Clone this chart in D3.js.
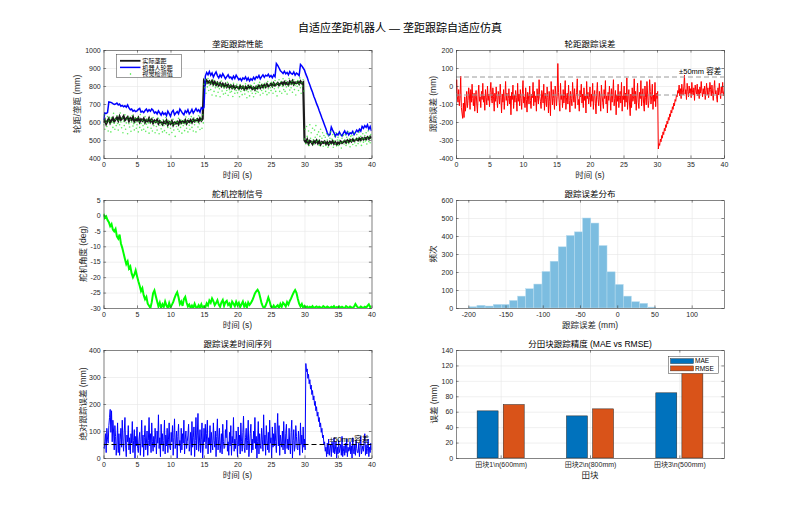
<!DOCTYPE html>
<html><head><meta charset="utf-8">
<script src="https://cdn.jsdelivr.net/npm/d3@7"></script>
<style>
body{margin:0;background:#fff;}
svg text{font-family:"Liberation Sans","Noto Sans CJK SC",sans-serif;}
</style></head><body>
<svg id="c" width="800" height="514"></svg>
<script>
// ---------------- DATA ----------------
// sample instants (s)
const t02 = d3.range(201).map(i => i * 0.2);
const t01 = d3.range(401).map(i => i * 0.1);

// 实际垄距 (mm), every 0.2 s
const actualSpacing = [
598,612,590,605,618, 596,610,622,603,615, 625,608,630,612,620, 632,610,618,627,606,
621,612,628,604,617, 609,622,600,615,607, 618,598,611,604,620, 601,613,595,608,600,
612,592,605,598,587, 603,594,608,585,599, 590,604,583,597,592, 601,588,606,595,603,
597,610,592,606,600, 611,598,614,603,609, 616,604,620,608,618, 825,812,830,818,826,
815,828,810,822,807, 818,804,815,800,812, 798,810,795,806,792, 803,790,801,787,798,
794,785,799,788,796, 782,795,786,800,790, 797,784,792,780,795, 788,801,790,803,794,
806,795,810,798,804, 812,800,815,803,809, 817,805,813,820,808, 822,811,818,807,825,
814,828,810,820,816, 823,812,826,815,820, 498,487,502,480,495, 490,478,494,485,497,
482,493,476,489,484, 491,478,488,475,490, 483,494,479,488,475, 486,480,492,484,490,
495,486,498,489,500, 492,503,495,499,506, 498,508,500,510,503, 512,505,515,507,518,
510];

// 机器人轮距 (mm), every 0.2 s
const wheelTrack = [
610,650,648,652,712, 710,708,702,698,700, 705,695,700,688,692, 685,690,682,695,678,
668,672,660,665,658, 662,670,675,655,660, 652,664,672,658,668, 660,672,665,650,656,
645,662,650,638,655, 642,650,635,660,646, 632,655,665,640,650, 658,645,672,660,648,
640,662,652,668,645, 655,670,650,662,675, 660,668,655,680,672, 682,855,875,862,880,
860,872,850,866,878, 858,845,862,850,868, 855,840,852,862,845, 850,838,855,842,860,
848,835,842,830,845, 838,850,832,845,828, 840,832,848,836,852, 845,858,840,852,862,
848,860,855,865,850, 858,846,862,852,925, 915,900,885,878,870, 882,868,875,862,880,
870,865,878,860,872, 866,858,920,912,900, 888,866,848,825,806, 784,765,742,724,702,
684,662,643,622,603, 582,562,540,524,530, 572,555,540,520,535, 528,545,530,522,538,
550,532,545,528,540, 535,548,530,542,555, 545,560,550,575,565, 580,570,585,560,575,
550];

// 视觉检测值 (mm), every 0.1 s
const visionMeas = [
585,640,560,612,598,575,630,550,605,620, 590,545,625,600,570,648,595,560,615,580,
635,592,555,610,585,650,600,568,622,540, 605,580,640,560,595,615,535,628,590,572,
612,548,600,636,578,590,556,620,598,565, 585,625,545,603,570,642,592,555,610,580,
560,600,630,548,588,612,570,595,538,618, 592,565,608,550,625,580,597,540,603,575,
555,598,620,535,582,605,562,590,545,612, 580,552,600,625,540,588,570,608,530,595,
565,600,542,585,615,555,592,520,603,575, 598,560,620,548,588,570,610,538,595,580,
610,552,590,628,565,600,545,618,582,560, 595,630,570,608,550,622,585,603,545,615,
600,572,635,590,558,625,610,565,640,595, 810,790,835,760,818,795,842,775,805,825,
780,815,750,800,832,770,808,790,745,820, 795,765,812,785,740,805,828,772,798,755,
788,810,760,795,775,820,748,800,780,765, 805,770,790,742,815,785,760,798,775,810,
762,795,780,740,808,770,790,752,800,778, 790,755,812,775,735,798,768,785,745,805,
772,800,760,790,740,815,780,758,795,770, 805,765,790,820,750,798,775,810,760,785,
795,815,770,800,752,825,785,762,808,790, 775,820,798,760,812,785,830,770,805,745,
815,790,835,770,805,825,760,798,840,780, 808,770,830,795,755,818,800,842,778,812,
790,825,765,810,835,780,805,750,820,798, 830,775,812,845,790,760,818,800,835,772,
505,560,480,575,520,495,550,470,585,510, 540,488,565,500,475,555,515,580,490,530,
498,545,470,520,560,485,510,540,465,525, 490,515,470,535,500,460,525,482,510,545,
475,505,530,460,495,520,480,540,468,500, 515,470,498,530,485,455,510,490,525,478,
500,530,470,515,490,545,480,505,462,520, 495,525,475,510,540,485,500,468,530,505,
480,515,545,490,520,470,505,535,488,510, 525,495,540,478,510,550,492,520,485,530,
505];

// 轮距跟踪误差 (mm), every 0.1 s
const trackErr = [
-40,35,-60,-90,-20,-110,-70,55,-120,-150, -180,-95,-175,-60,-140,-100,-30,-120,-80,-10,
-50,-130,-20,-90,10,-70,-110,-40,-140,-60, -25,-100,-150,-45,5,-85,-60,-120,-30,-75,
15,-90,-55,-135,-20,-65,-105,0,-80,-45, -115,-35,20,-70,-95,-10,-60,-140,-40,-85,
-5,-75,-120,-30,-55,-100,10,-65,-150,-45, -90,-20,-130,-60,25,-80,-40,-110,-70,-15,
-100,-55,-160,-35,-75,5,-125,-50,-90,-25, -65,-140,15,-85,-45,-110,-20,-70,-130,-40,
30,-95,-60,-120,-10,-75,-145,-35,-55,-100, 0,-80,-125,-45,-65,20,-110,-30,-90,-55,
-140,-15,-70,-100,35,-60,-85,-125,-25,-50, -95,10,-135,-40,-75,-115,-5,-65,-150,-30,
-85,-165,25,-55,-105,-20,-70,-130,0,-45, -110,-60,125,-35,-90,-140,15,-75,-50,-120,
-20,-95,-55,30,-130,-65,-40,-100,5,-80, -145,-30,-70,-110,20,-50,-90,-15,-125,-60,
-35,40,-105,-75,-140,-25,-60,10,-95,-45, -120,-10,-80,-55,-150,25,-70,-35,-100,-65,
-5,-115,-45,-85,15,-130,-60,-25,-95,-155, -40,20,-75,-110,-30,-65,-140,5,-50,-90,
-125,-20,-70,30,-100,-55,-150,-35,-80,0, -60,-135,-15,-90,-45,35,-110,-70,-25,-160,
-50,-85,10,-120,-65,-30,-95,20,-140,-55, -75,0,-115,-40,-90,45,-130,-60,-20,-100,
-165,-45,-120,-10,-85,-60,40,-100,-30,-135, -55,15,-90,-125,-35,-70,30,-110,-50,-15,
-95,-140,0,-65,-105,25,-45,-120,-80,35, -30,-100,-60,10,-130,-50,-85,20,-115,-40,
-70,-30,-350,-320,-330,-295,-310,-275,-290,-255, -270,-235,-250,-215,-230,-195,-210,-175,-190,-155,
-170,-135,-150,-115,-130,-95,-110,-75,-85,-50, -60,-25,-40,5,-55,-15,-70,10,-35,-50,
-5,60,-45,-20,-75,15,-30,-60,0,-40, -15,-65,20,-35,-50,-10,-80,5,-25,-45,
10,-55,-20,-70,-5,-40,25,-30,-60,-15, -45,0,-75,-25,15,-50,-10,-65,-35,20,
-20,-55,5,-40,-80,-15,30,-45,-25,-60, -90,-10,-50,15,-35,-70,-5,-40,20,-55,
-30];

// 舵机角度 (deg), every 0.2 s
const servoAngle = [
0.5,-0.8,-0.3,-1.5,-2.2, -3.5,-2.8,-4.6,-5.2,-4.4, -6.8,-7.5,-6.2,-9.1,-10.5, -12.3,-14.1,-15.8,-14.9,-17.2,
-16.5,-18.8,-20.1,-19.2,-17.8, -19.6,-21.3,-22.8,-24.5,-23.6, -25.9,-27.2,-26.4,-28.6,-29.3, -30,-28.1,-25.2,-24.3,-26.1,
-27.8,-29.5,-28.3,-30,-28.8, -29.6,-27.9,-29.2,-30,-28.4, -29.8,-29.0,-28.1,-26.8,-25.7, -24.9,-26.5,-28.7,-27.9,-29.3,
-27.1,-26.4,-28.2,-29.5,-28.9, -30,-29.2,-30,-28.6,-29.7, -30,-29.1,-29.9,-28.8,-30, -29.4,-29.8,-28.5,-29.2,-27.6,
-28.3,-26.9,-27.8,-29.1,-28.4, -27.5,-28.9,-29.6,-28.2,-27.4, -29.3,-28.1,-27.7,-29.0,-28.5, -29.8,-27.9,-28.6,-29.4,-28.0,
-29.1,-28.3,-29.7,-28.8,-27.9, -29.5,-28.6,-29.9,-28.2,-29.0, -28.4,-27.6,-26.5,-25.3,-24.6, -24.1,-24.9,-26.7,-28.5,-29.6,
-30,-29.2,-28.0,-26.6,-27.9, -29.5,-30,-29.2,-30,-29.5, -29.1,-30,-28.7,-29.6,-28.3, -28.8,-29.5,-28.1,-28.9,-27.7,
-26.9,-25.8,-24.9,-24.2,-25.1, -27.0,-28.6,-29.5,-28.7,-30, -29.3,-29.8,-29.5,-30,-29.6, -29.9,-29.4,-30,-29.7,-29.5,
-30,-29.6,-29.8,-30,-29.4, -29.7,-30,-29.5,-29.8,-30, -29.6,-29.9,-29.4,-30,-29.7, -29.8,-29.5,-30,-29.6,-29.9,
-30,-29.4,-29.7,-30,-29.5, -29.8,-30,-29.6,-28.7,-29.4, -29.9,-30,-29.5,-29.8,-30, -29.6,-29.9,-29.3,-28.8,-29.7,
-29.5];

// 跟踪误差分布 histogram
const histEdges = [-199.3,-188.4,-177.5,-166.5,-155.6,-144.7,-133.8,-122.9,-112.0,-101.0,-90.1,-79.2,
  -68.3,-57.4,-46.5,-35.5,-24.6,-13.7,-2.8,8.1,19.0,30.0,40.9,51.8];
const histCounts = [7,15,11,20,20,42,66,107,133,203,260,340,403,423,500,472,347,201,131,66,35,26,5];

// 分田块跟踪精度
const fieldLabels = ["田块1\\n(600mm)", "田块2\\n(800mm)", "田块3\\n(500mm)"];
const maeVals = [61.1, 54.6, 84.5];
const rmseVals = [69.3, 63.7, 115];

// tick values
const timeTicks = d3.range(0, 41, 5);
const spacingTicks = d3.range(400, 1001, 100);
const errTicks = d3.range(-400, 201, 100);
const servoTicks = d3.range(-30, 6, 5);
const histXTicks = d3.range(-200, 101, 50);
const histYTicks = d3.range(0, 601, 100);
const absErrTicks = d3.range(0, 401, 100);
const barYTicks = d3.range(0, 141, 20);

// ---------------- LAYOUT ----------------
const svg = d3.select("#c");
const FONT = '"Liberation Sans","Noto Sans CJK SC",sans-serif';
const W = 268, H = 108, TK = 2.6;
const cols = [103.5, 456], rows = [50, 200, 350];
const AX = "#3a3a3a", GRID = "#e6e6e6", TXT = "#262626";

svg.append("rect").attr("width", 800).attr("height", 514).attr("fill", "#fff");
svg.append("text").attr("x", 400).attr("y", 32).attr("text-anchor", "middle")
  .attr("font-size", 11).attr("fill", "#000").text("自适应垄距机器人 — 垄距跟踪自适应仿真");

function panel(o) {
  const left = cols[o.col], top = rows[o.row];
  const x = d3.scaleLinear().domain(o.xd).range([left, left + W]);
  const y = d3.scaleLinear().domain(o.yd).range([top + H, top]);
  const g = svg.append("g");
  g.append("rect").attr("x", left).attr("y", top).attr("width", W).attr("height", H).attr("fill", "#fff");
  const gg = g.append("g");
  gg.append("g").attr("transform", `translate(0,${top + H})`)
    .call(d3.axisBottom(x).tickValues(o.xt).tickSize(-H).tickFormat(""));
  gg.append("g").attr("transform", `translate(${left},0)`)
    .call(d3.axisLeft(y).tickValues(o.yt).tickSize(-W).tickFormat(""));
  gg.selectAll(".domain").remove();
  gg.selectAll("line").attr("stroke", GRID).attr("stroke-width", 0.6);
  const id = "clip" + o.col + o.row;
  svg.append("clipPath").attr("id", id).append("rect")
    .attr("x", left).attr("y", top).attr("width", W).attr("height", H);
  const plot = g.append("g").attr("clip-path", `url(#${id})`);
  const p = { x, y, g, plot, left, top };
  p.frame = () => {
    const fx = o.xfmt || (d => String(d));
    const axs = [
      g.append("g").attr("transform", `translate(0,${top + H})`)
        .call(d3.axisBottom(x).tickValues(o.xt).tickSizeInner(-TK).tickSizeOuter(0).tickPadding(4.5).tickFormat(fx)),
      g.append("g").attr("transform", `translate(0,${top})`)
        .call(d3.axisTop(x).tickValues(o.xt).tickSizeInner(-TK).tickSizeOuter(0).tickFormat("")),
      g.append("g").attr("transform", `translate(${left},0)`)
        .call(d3.axisLeft(y).tickValues(o.yt).tickSizeInner(-TK).tickSizeOuter(0).tickPadding(2.8).tickFormat(d => String(d))),
      g.append("g").attr("transform", `translate(${left + W},0)`)
        .call(d3.axisRight(y).tickValues(o.yt).tickSizeInner(-TK).tickSizeOuter(0).tickFormat(""))
    ];
    axs.forEach(a => {
      a.attr("font-size", 7).attr("font-family", FONT);
      a.select(".domain").attr("stroke", AX).attr("stroke-width", 0.6);
      a.selectAll("line").attr("stroke", AX).attr("stroke-width", 0.6);
      a.selectAll("text").attr("fill", TXT);
    });
    g.append("text").attr("x", left + W / 2).attr("y", top - 3).attr("text-anchor", "middle")
      .attr("font-size", 8.5).attr("fill", "#000").text(o.title);
    g.append("text").attr("x", left + W / 2).attr("y", top + H + 20).attr("text-anchor", "middle")
      .attr("font-size", 8.5).attr("fill", TXT).text(o.xlabel);
    g.append("text").attr("transform", `translate(${o.ylx + 3},${top + H / 2}) rotate(-90)`)
      .attr("text-anchor", "middle").attr("font-size", 8.5).attr("fill", TXT).text(o.ylabel);
  };
  return p;
}

// ---- P1 垄距跟踪性能 ----
{
  const p = panel({ col: 0, row: 0, xd: [0, 40], yd: [400, 1000], xt: timeTicks, yt: spacingTicks,
    title: "垄距跟踪性能", xlabel: "时间 (s)", ylabel: "轮距/垄距 (mm)", ylx: 76.7 });
  const line = d3.line().x((d, i) => p.x(t02[i])).y(d => p.y(d));
  p.plot.append("path").datum(actualSpacing).attr("d", line).attr("fill", "none")
    .attr("stroke", "#1a1a1a").attr("stroke-width", 2.2);
  p.plot.append("path").datum(wheelTrack).attr("d", line).attr("fill", "none")
    .attr("stroke", "#0000ff").attr("stroke-width", 1.5);
  p.plot.selectAll(".vd").data(visionMeas).join("circle")
    .attr("cx", (d, i) => p.x(t01[i])).attr("cy", d => p.y(d)).attr("r", 0.8)
    .attr("fill", "#2ee62e").attr("fill-opacity", 0.75);
  p.frame();
  // legend
  const lg = p.g.append("g");
  lg.append("rect").attr("x", 116.7).attr("y", 54.5).attr("width", 65).attr("height", 23)
    .attr("fill", "#fff").attr("stroke", AX).attr("stroke-width", 0.5);
  const items = [["实际垄距", "line", "#1a1a1a"], ["机器人轮距", "line", "#0000ff"], ["视觉检测值", "dot", "#2ee62e"]];
  items.forEach((it, i) => {
    const yy = 60.8 + i * 6.6;
    if (it[1] === "line") lg.append("line").attr("x1", 120).attr("x2", 140.5).attr("y1", yy).attr("y2", yy)
      .attr("stroke", it[2]).attr("stroke-width", i === 0 ? 1.8 : 1.5);
    else lg.append("circle").attr("cx", 130.5).attr("cy", yy).attr("r", 0.75).attr("fill", it[2]);
    lg.append("text").attr("x", 142.3).attr("y", yy + 2.2).attr("font-size", 6.1).attr("fill", "#000").text(it[0]);
  });
}

// ---- P2 轮距跟踪误差 ----
{
  const p = panel({ col: 1, row: 0, xd: [0, 40], yd: [-400, 200], xt: timeTicks, yt: errTicks,
    title: "轮距跟踪误差", xlabel: "时间 (s)", ylabel: "跟踪误差 (mm)", ylx: 432.7 });
  const line = d3.line().x((d, i) => p.x(t01[i])).y(d => p.y(d));
  p.plot.append("path").datum(trackErr).attr("d", line).attr("fill", "none")
    .attr("stroke", "#ff0000").attr("stroke-width", 1);
  [50, -50].forEach(v => p.plot.append("line").attr("x1", p.x(0)).attr("x2", p.x(40))
    .attr("y1", p.y(v)).attr("y2", p.y(v)).attr("stroke", "#9a9a9a").attr("stroke-width", 1)
    .attr("stroke-dasharray", "5,3"));
  p.frame();
  p.g.append("text").attr("x", p.x(33.3)).attr("y", p.y(50) - 3).attr("font-size", 7.5)
    .attr("fill", "#000").text("±50mm 容差");
}

// ---- P3 舵机控制信号 ----
{
  const p = panel({ col: 0, row: 1, xd: [0, 40], yd: [-30, 5], xt: timeTicks, yt: servoTicks,
    title: "舵机控制信号", xlabel: "时间 (s)", ylabel: "舵机角度 (deg)", ylx: 82.7 });
  const line = d3.line().x((d, i) => p.x(t02[i])).y(d => p.y(d));
  p.plot.append("path").datum(servoAngle).attr("d", line).attr("fill", "none")
    .attr("stroke", "#00ff00").attr("stroke-width", 2);
  p.frame();
}

// ---- P4 跟踪误差分布 ----
{
  const p = panel({ col: 1, row: 1, xd: [-216.5, 143.4], yd: [0, 600], xt: histXTicks, yt: histYTicks,
    title: "跟踪误差分布", xlabel: "跟踪误差 (mm)", ylabel: "频次", ylx: 433.3 });
  p.plot.selectAll(".hb").data(histCounts).join("rect")
    .attr("x", (d, i) => p.x(histEdges[i])).attr("width", (d, i) => p.x(histEdges[i + 1]) - p.x(histEdges[i]))
    .attr("y", d => p.y(d)).attr("height", d => p.y(0) - p.y(d))
    .attr("fill", "#7cbde0").attr("stroke", "#b8dcef").attr("stroke-width", 0.5);
  p.frame();
}

// ---- P5 跟踪误差时间序列 ----
{
  const absErr = trackErr.map(Math.abs);
  const p = panel({ col: 0, row: 2, xd: [0, 40], yd: [0, 400], xt: timeTicks, yt: absErrTicks,
    title: "跟踪误差时间序列", xlabel: "时间 (s)", ylabel: "绝对跟踪误差 (mm)", ylx: 82.7 });
  const line = d3.line().x((d, i) => p.x(t01[i])).y(d => p.y(d));
  p.plot.append("path").datum(absErr).attr("d", line).attr("fill", "none")
    .attr("stroke", "#0000ff").attr("stroke-width", 1);
  p.plot.append("line").attr("x1", p.x(0)).attr("x2", p.x(40)).attr("y1", p.y(50)).attr("y2", p.y(50))
    .attr("stroke", "#000").attr("stroke-width", 1).attr("stroke-dasharray", "5,3");
  p.frame();
  p.g.append("text").attr("x", p.x(33.7)).attr("y", p.y(50) - 3).attr("font-size", 7.5)
    .attr("fill", "#000").text("±50mm容差");
}

// ---- P6 分田块跟踪精度 ----
{
  const cats = [1, 2, 3];
  const p = panel({ col: 1, row: 2, xd: [0.5, 3.5], yd: [0, 140], xt: cats, yt: barYTicks,
    xfmt: d => fieldLabels[d - 1],
    title: "分田块跟踪精度 (MAE vs RMSE)", xlabel: "田块", ylabel: "误差 (mm)", ylx: 434 });
  const bw = 0.235, off = 0.146;
  const series = [[maeVals, -off, "#0072BD"], [rmseVals, off, "#D95319"]];
  series.forEach(s => {
    p.plot.selectAll(null).data(s[0]).join("rect")
      .attr("x", (d, i) => p.x(cats[i] + s[1] - bw / 2)).attr("width", p.x(bw) - p.x(0))
      .attr("y", d => p.y(d)).attr("height", d => p.y(0) - p.y(d))
      .attr("fill", s[2]).attr("stroke", "#262626").attr("stroke-width", 0.5);
  });
  p.frame();
  const lg = p.g.append("g");
  lg.append("rect").attr("x", 668.3).attr("y", 356.7).attr("width", 50).attr("height", 16.6)
    .attr("fill", "#fff").attr("stroke", AX).attr("stroke-width", 0.5);
  [["MAE", "#0072BD"], ["RMSE", "#D95319"]].forEach((it, i) => {
    const yy = 358.6 + i * 7.3;
    lg.append("rect").attr("x", 670.5).attr("y", yy).attr("width", 23).attr("height", 5)
      .attr("fill", it[1]).attr("stroke", "#262626").attr("stroke-width", 0.4);
    lg.append("text").attr("x", 695).attr("y", yy + 4.7).attr("font-size", 6.5).attr("fill", "#000").text(it[0]);
  });
}
</script>
</body></html>
